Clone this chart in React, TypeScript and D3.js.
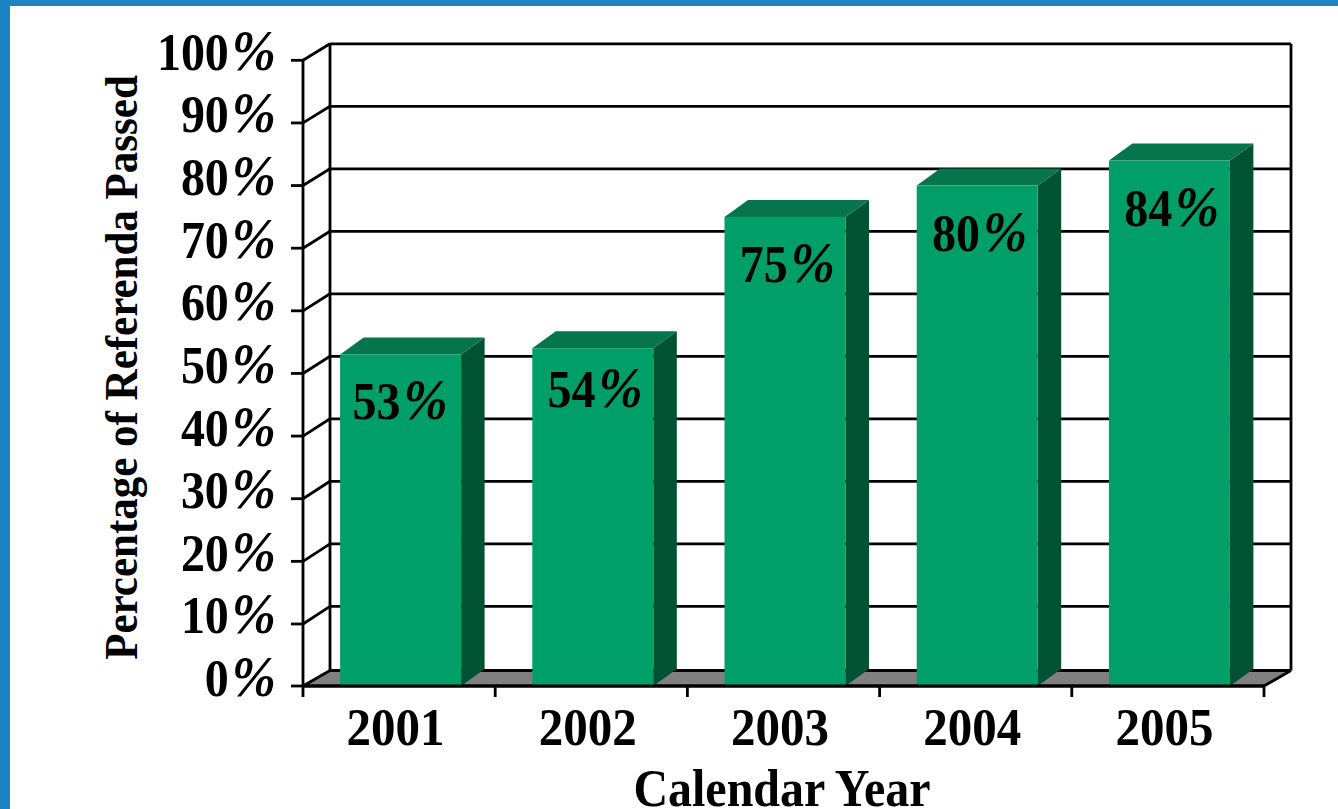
import React from "react";
import * as d3 from "d3";

const years = ["2001", "2002", "2003", "2004", "2005"];
const passed = [53, 54, 75, 80, 84];
const yTicks = [0, 10, 20, 30, 40, 50, 60, 70, 80, 90, 100];
const yTitle = "Percentage of Referenda Passed";
const xTitle = "Calendar Year";

const W = 1338, H = 809;
const FRONT_LEFT = 303, FRONT_RIGHT = 1264, Y0 = 686, Y100 = 60.5;
const DX = 27, DY = -15.5;
const BAR_DX = 23.5, BAR_DY = -17;
const FONT = "'Liberation Serif','Times New Roman',serif";
const FS = 48, VS = 1.08;

const x = d3.scaleBand<string>().domain(years).range([FRONT_LEFT, FRONT_RIGHT]).paddingInner(0).paddingOuter(0);
const y = d3.scaleLinear().domain([0, 100]).range([Y0, Y100]);
const yTick = d3.scaleLinear().domain([0, 100]).range([686.6, 60.3]);
const yBack = d3.scaleLinear().domain([0, 100]).range([668.8, 43.8]);
const barW = 121;

function Label({ px, py, anchor, children, rotate, size = FS }: any) {
  return (
    <text
      transform={`translate(${px},${py})${rotate ? ` rotate(${rotate})` : ""} scale(1,${VS})`}
      textAnchor={anchor}
      fontFamily={FONT}
      fontWeight="bold"
      fontSize={size}
      fill="#000"
    >
      {children}
    </text>
  );
}

function Pct({ v }: { v: number }) {
  return (
    <>
      <tspan>{v}</tspan>
      <tspan dx={3} fontStyle="italic" fontSize={53}>%</tspan>
    </>
  );
}

export default function App() {
  const stroke = { stroke: "#000", strokeWidth: 2.8, fill: "none" };
  return (
    <svg width={W} height={H} viewBox={`0 0 ${W} ${H}`} style={{ position: "absolute", left: 0, top: 0, background: "#fff" }}>
      <rect x={0} y={0} width={W} height={6} fill="#1a84c5" />
      <rect x={0} y={0} width={10} height={H} fill="#1a84c5" />

      {/* floor */}
      <polygon
        points={`${FRONT_LEFT},${Y0} ${FRONT_LEFT + DX},${Y0 + DY} ${FRONT_RIGHT + DX},${Y0 + DY} ${FRONT_RIGHT},${Y0}`}
        fill="#808080"
      />

      {/* gridlines */}
      {yTicks.map((t) => {
        const front = t === 0 ? Y0 : yTick(t);
        const back = t === 0 ? Y0 + DY : yBack(t);
        return (
          <g key={t} {...stroke}>
            <line x1={FRONT_LEFT - 12} x2={FRONT_LEFT} y1={front} y2={front} />
            <line x1={FRONT_LEFT} x2={FRONT_LEFT + DX} y1={front} y2={back} />
            <line x1={FRONT_LEFT + DX} x2={FRONT_RIGHT + DX} y1={back} y2={back} />
          </g>
        );
      })}
      <g {...stroke}>
        <line x1={FRONT_LEFT} x2={FRONT_LEFT} y1={yTick(100)} y2={Y0 + 11} />
        <line x1={FRONT_LEFT + DX} x2={FRONT_LEFT + DX} y1={yBack(100)} y2={Y0 + DY} />
        <line x1={FRONT_RIGHT + DX} x2={FRONT_RIGHT + DX} y1={yBack(100)} y2={Y0 + DY} />
        <line x1={FRONT_RIGHT} x2={FRONT_RIGHT + DX} y1={Y0} y2={Y0 + DY} />
        <line x1={FRONT_LEFT} x2={FRONT_RIGHT} y1={Y0} y2={Y0} />
        {years.map((d) => (
          <line key={d} x1={(x(d) as number) + x.bandwidth()} x2={(x(d) as number) + x.bandwidth()} y1={Y0} y2={Y0 + 11} />
        ))}
      </g>

      {/* bars */}
      {years.map((d, i) => {
        const cx = (x(d) as number) + x.bandwidth() / 2 + 1.5;
        const l = cx - barW / 2, r = cx + barW / 2, top = y(passed[i]);
        return (
          <g key={d}>
            <polygon points={`${r},${top} ${r + BAR_DX},${top + BAR_DY} ${r + BAR_DX},${Y0 + BAR_DY} ${r},${Y0}`} fill="#005234" />
            <polygon points={`${l},${top} ${l + BAR_DX},${top + BAR_DY} ${r + BAR_DX},${top + BAR_DY} ${r},${top}`} fill="#06754d" />
            <rect x={l} y={top} width={barW} height={Y0 - top} fill="#009f69" />
          </g>
        );
      })}
      <line x1={FRONT_LEFT} x2={FRONT_RIGHT} y1={Y0} y2={Y0} {...stroke} />

      {/* value labels */}
      {years.map((d, i) => {
        const cx = (x(d) as number) + x.bandwidth() / 2;
        const lift = d === "2002" ? 6 : 0;
        const shift = d === "2001" ? 1 : 3.8;
        return (
          <Label key={d} px={cx + shift} py={y(passed[i]) + 65 - lift} anchor="middle">
            <Pct v={passed[i]} />
          </Label>
        );
      })}

      {/* y tick labels */}
      {yTicks.map((t) => (
        <Label key={t} px={276} py={yTick(t) + 9.5} anchor="end">
          <Pct v={t} />
        </Label>
      ))}

      {/* x tick labels */}
      {years.map((d) => (
        <Label key={d} px={(x(d) as number) + x.bandwidth() / 2 - 3.5} py={745} anchor="middle" size={49}>
          {d}
        </Label>
      ))}

      <Label px={782} py={806} anchor="middle">{xTitle}</Label>
      <Label px={137} py={367.5} anchor="middle" rotate={-90} size={43}>{yTitle}</Label>
    </svg>
  );
}
